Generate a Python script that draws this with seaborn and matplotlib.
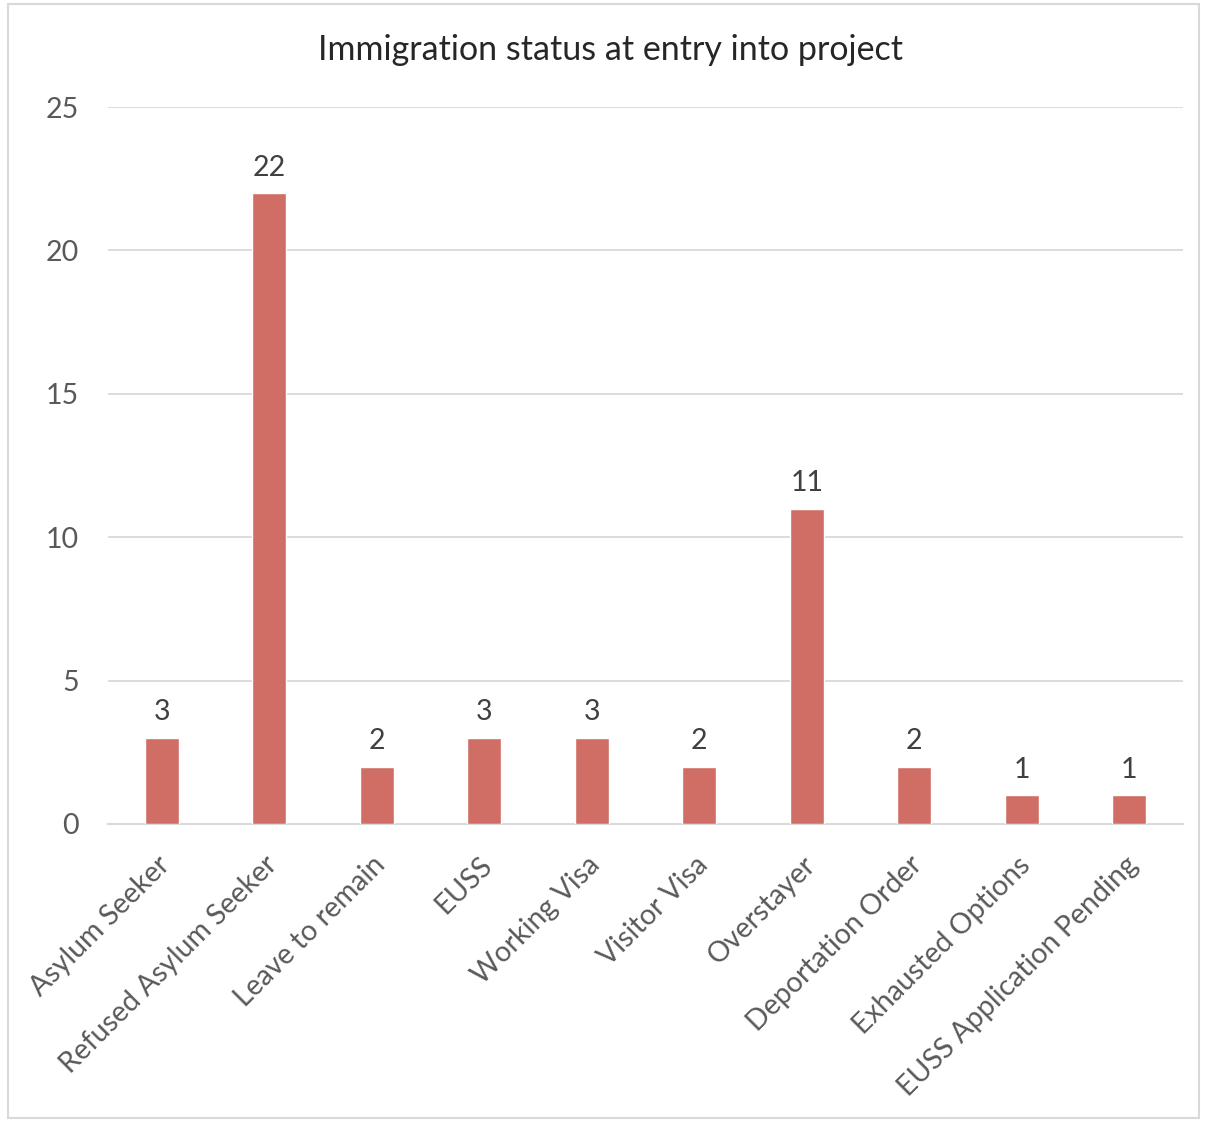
import matplotlib
matplotlib.use("Agg")
import matplotlib.pyplot as plt
import matplotlib.transforms as mtrans
import seaborn as sns
import pandas as pd
from matplotlib.patches import Rectangle

categories = ["Asylum Seeker", "Refused Asylum Seeker", "Leave to remain", "EUSS",
              "Working Visa", "Visitor Visa", "Overstayer", "Deportation Order",
              "Exhausted Options", "EUSS Application Pending"]
values = [3, 22, 2, 3, 3, 2, 11, 2, 1, 1]
yticks = [0, 5, 10, 15, 20, 25]
title = "Immigration status at entry into project"

sns.set_theme(style="white")
plt.rcParams['font.family'] = ['Lato', 'DejaVu Sans']

df = pd.DataFrame({"category": categories, "value": values})

fig = plt.figure(figsize=(12.06, 11.22), dpi=100)
ax = fig.add_axes([108/1206, 1-824/1122, (1183-108)/1206, (824-107)/1122])

sns.barplot(data=df, x="category", y="value", color="#D06E65", width=0.315,
            saturation=1, ax=ax, zorder=3)

ax.set_ylim(0, 25)
ax.set_xlim(-0.5, len(categories)-0.5)
ax.set_yticks(yticks)
ax.yaxis.grid(True, color="#D9D9D9", linewidth=1.3, zorder=0)
ax.xaxis.grid(False)
for s in ["top", "right", "left"]:
    ax.spines[s].set_visible(False)
ax.spines["bottom"].set_color("#D9D9D9")
ax.spines["bottom"].set_linewidth(1.5)
ax.set_xlabel("")
ax.set_ylabel("")
ax.tick_params(axis="both", length=0, labelsize=20.5, colors="#595959")
ax.tick_params(axis="y", pad=21)
ax.tick_params(axis="x", pad=20)
ax.set_xticks(range(len(categories)))
ax.set_xticklabels(categories, rotation=45, ha="right", rotation_mode="anchor")
offset = mtrans.ScaledTranslation(-5/100, 0, fig.dpi_scale_trans)
for lbl in ax.get_xticklabels():
    lbl.set_transform(lbl.get_transform() + offset)

for c in ax.containers:
    ax.bar_label(c, labels=[str(v) for v in values], padding=9, fontsize=20.5, color="#404040")

fig.text(610/1206, 1-50/1122, title, ha="center", va="center", fontsize=24.5, color="#262626")

fig.patches.append(Rectangle((8/1206, 4/1122), (1199-8)/1206, (1118-4)/1122,
                             transform=fig.transFigure, fill=False,
                             edgecolor="#D9D9D9", linewidth=1.5))

fig.savefig("out.png", dpi=100)
